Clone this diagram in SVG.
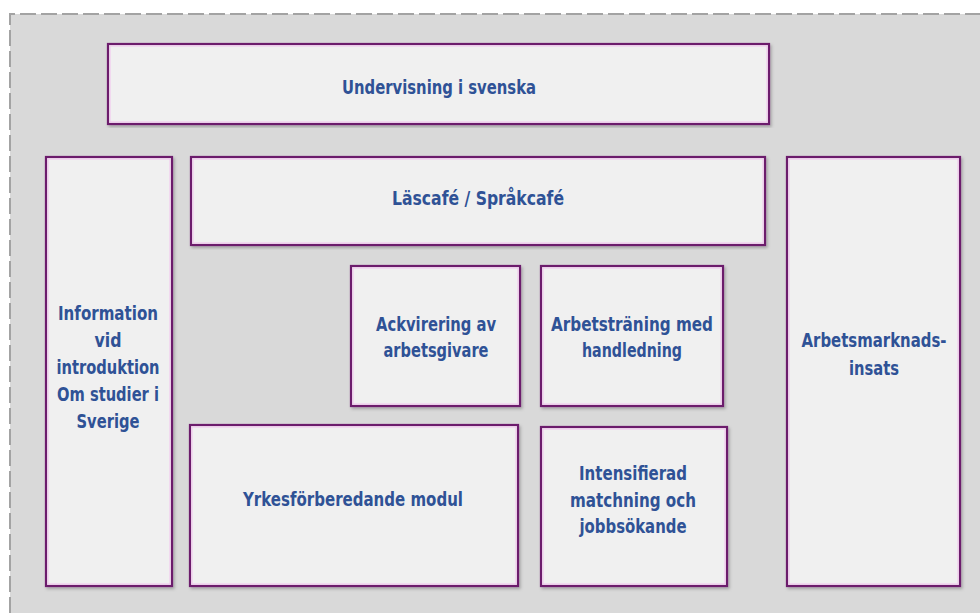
<svg xmlns="http://www.w3.org/2000/svg" width="980" height="613" viewBox="0 0 980 613">
<defs>
<style>
.box{fill:#f0f0f0;stroke:#6c1d6c;stroke-width:2.2}
.inner{fill:none;stroke:#f2c2ee;stroke-width:1}
.t{font-family:"Liberation Sans Narrow","DejaVu Sans Condensed","Liberation Sans",sans-serif;font-weight:bold;font-size:19.5px;fill:#2f5296;text-anchor:middle}
</style>
<filter id="sh" x="-5%" y="-5%" width="110%" height="110%">
<feDropShadow dx="1.5" dy="2" stdDeviation="1.5" flood-color="#000" flood-opacity="0.25"/>
</filter>
</defs>
<rect x="0" y="0" width="980" height="613" fill="#ffffff"/>
<rect x="10" y="14" width="970" height="599" fill="#d9d9d9"/>
<path d="M10 613 V14 H980" fill="none" stroke="#a3a3a3" stroke-width="2" stroke-dasharray="16 5"/>

<g id="undervisning">
<rect class="box" x="108" y="44" width="661" height="80" filter="url(#sh)"/>
<rect class="inner" x="110" y="46" width="657" height="76"/>
<text class="t" x="439" y="94" textLength="194" lengthAdjust="spacingAndGlyphs">Undervisning i svenska</text>
</g>
<g id="information">
<rect class="box" x="46" y="157" width="126" height="429" filter="url(#sh)"/>
<rect class="inner" x="48" y="159" width="122" height="425"/>
<text class="t" x="108" y="320" textLength="100" lengthAdjust="spacingAndGlyphs">Information</text>
<text class="t" x="108" y="347" textLength="27" lengthAdjust="spacingAndGlyphs">vid</text>
<text class="t" x="108" y="374" textLength="103" lengthAdjust="spacingAndGlyphs">introduktion</text>
<text class="t" x="108" y="401" textLength="102" lengthAdjust="spacingAndGlyphs">Om studier i</text>
<text class="t" x="108" y="428" textLength="63" lengthAdjust="spacingAndGlyphs">Sverige</text>
</g>
<g id="lascafe">
<rect class="box" x="191" y="157" width="574" height="88" filter="url(#sh)"/>
<rect class="inner" x="193" y="159" width="570" height="84"/>
<text class="t" x="478" y="205" textLength="172" lengthAdjust="spacingAndGlyphs">Läscafé / Språkcafé</text>
</g>
<g id="arbetsmarknad">
<rect class="box" x="787" y="157" width="173" height="429" filter="url(#sh)"/>
<rect class="inner" x="789" y="159" width="169" height="425"/>
<text class="t" x="874" y="347" textLength="145" lengthAdjust="spacingAndGlyphs">Arbetsmarknads-</text>
<text class="t" x="874" y="375" textLength="50" lengthAdjust="spacingAndGlyphs">insats</text>
</g>
<g id="ackvirering">
<rect class="box" x="351" y="266" width="169" height="140" filter="url(#sh)"/>
<rect class="inner" x="353" y="268" width="165" height="136"/>
<text class="t" x="436" y="331" textLength="120" lengthAdjust="spacingAndGlyphs">Ackvirering av</text>
<text class="t" x="436" y="357" textLength="105" lengthAdjust="spacingAndGlyphs">arbetsgivare</text>
</g>
<g id="arbetstraning">
<rect class="box" x="541" y="266" width="182" height="140" filter="url(#sh)"/>
<rect class="inner" x="543" y="268" width="178" height="136"/>
<text class="t" x="632" y="331" textLength="162" lengthAdjust="spacingAndGlyphs">Arbetsträning med</text>
<text class="t" x="632" y="357" textLength="100" lengthAdjust="spacingAndGlyphs">handledning</text>
</g>
<g id="yrkes">
<rect class="box" x="190" y="425" width="328" height="161" filter="url(#sh)"/>
<rect class="inner" x="192" y="427" width="324" height="157"/>
<text class="t" x="353" y="506" textLength="220" lengthAdjust="spacingAndGlyphs">Yrkesförberedande modul</text>
</g>
<g id="intensifierad">
<rect class="box" x="541" y="427" width="186" height="159" filter="url(#sh)"/>
<rect class="inner" x="543" y="429" width="182" height="155"/>
<text class="t" x="633" y="480" textLength="108" lengthAdjust="spacingAndGlyphs">Intensifierad</text>
<text class="t" x="633" y="507" textLength="126" lengthAdjust="spacingAndGlyphs">matchning och</text>
<text class="t" x="633" y="533" textLength="107" lengthAdjust="spacingAndGlyphs">jobbsökande</text>
</g>
<g id="connectors"></g>
</svg>
